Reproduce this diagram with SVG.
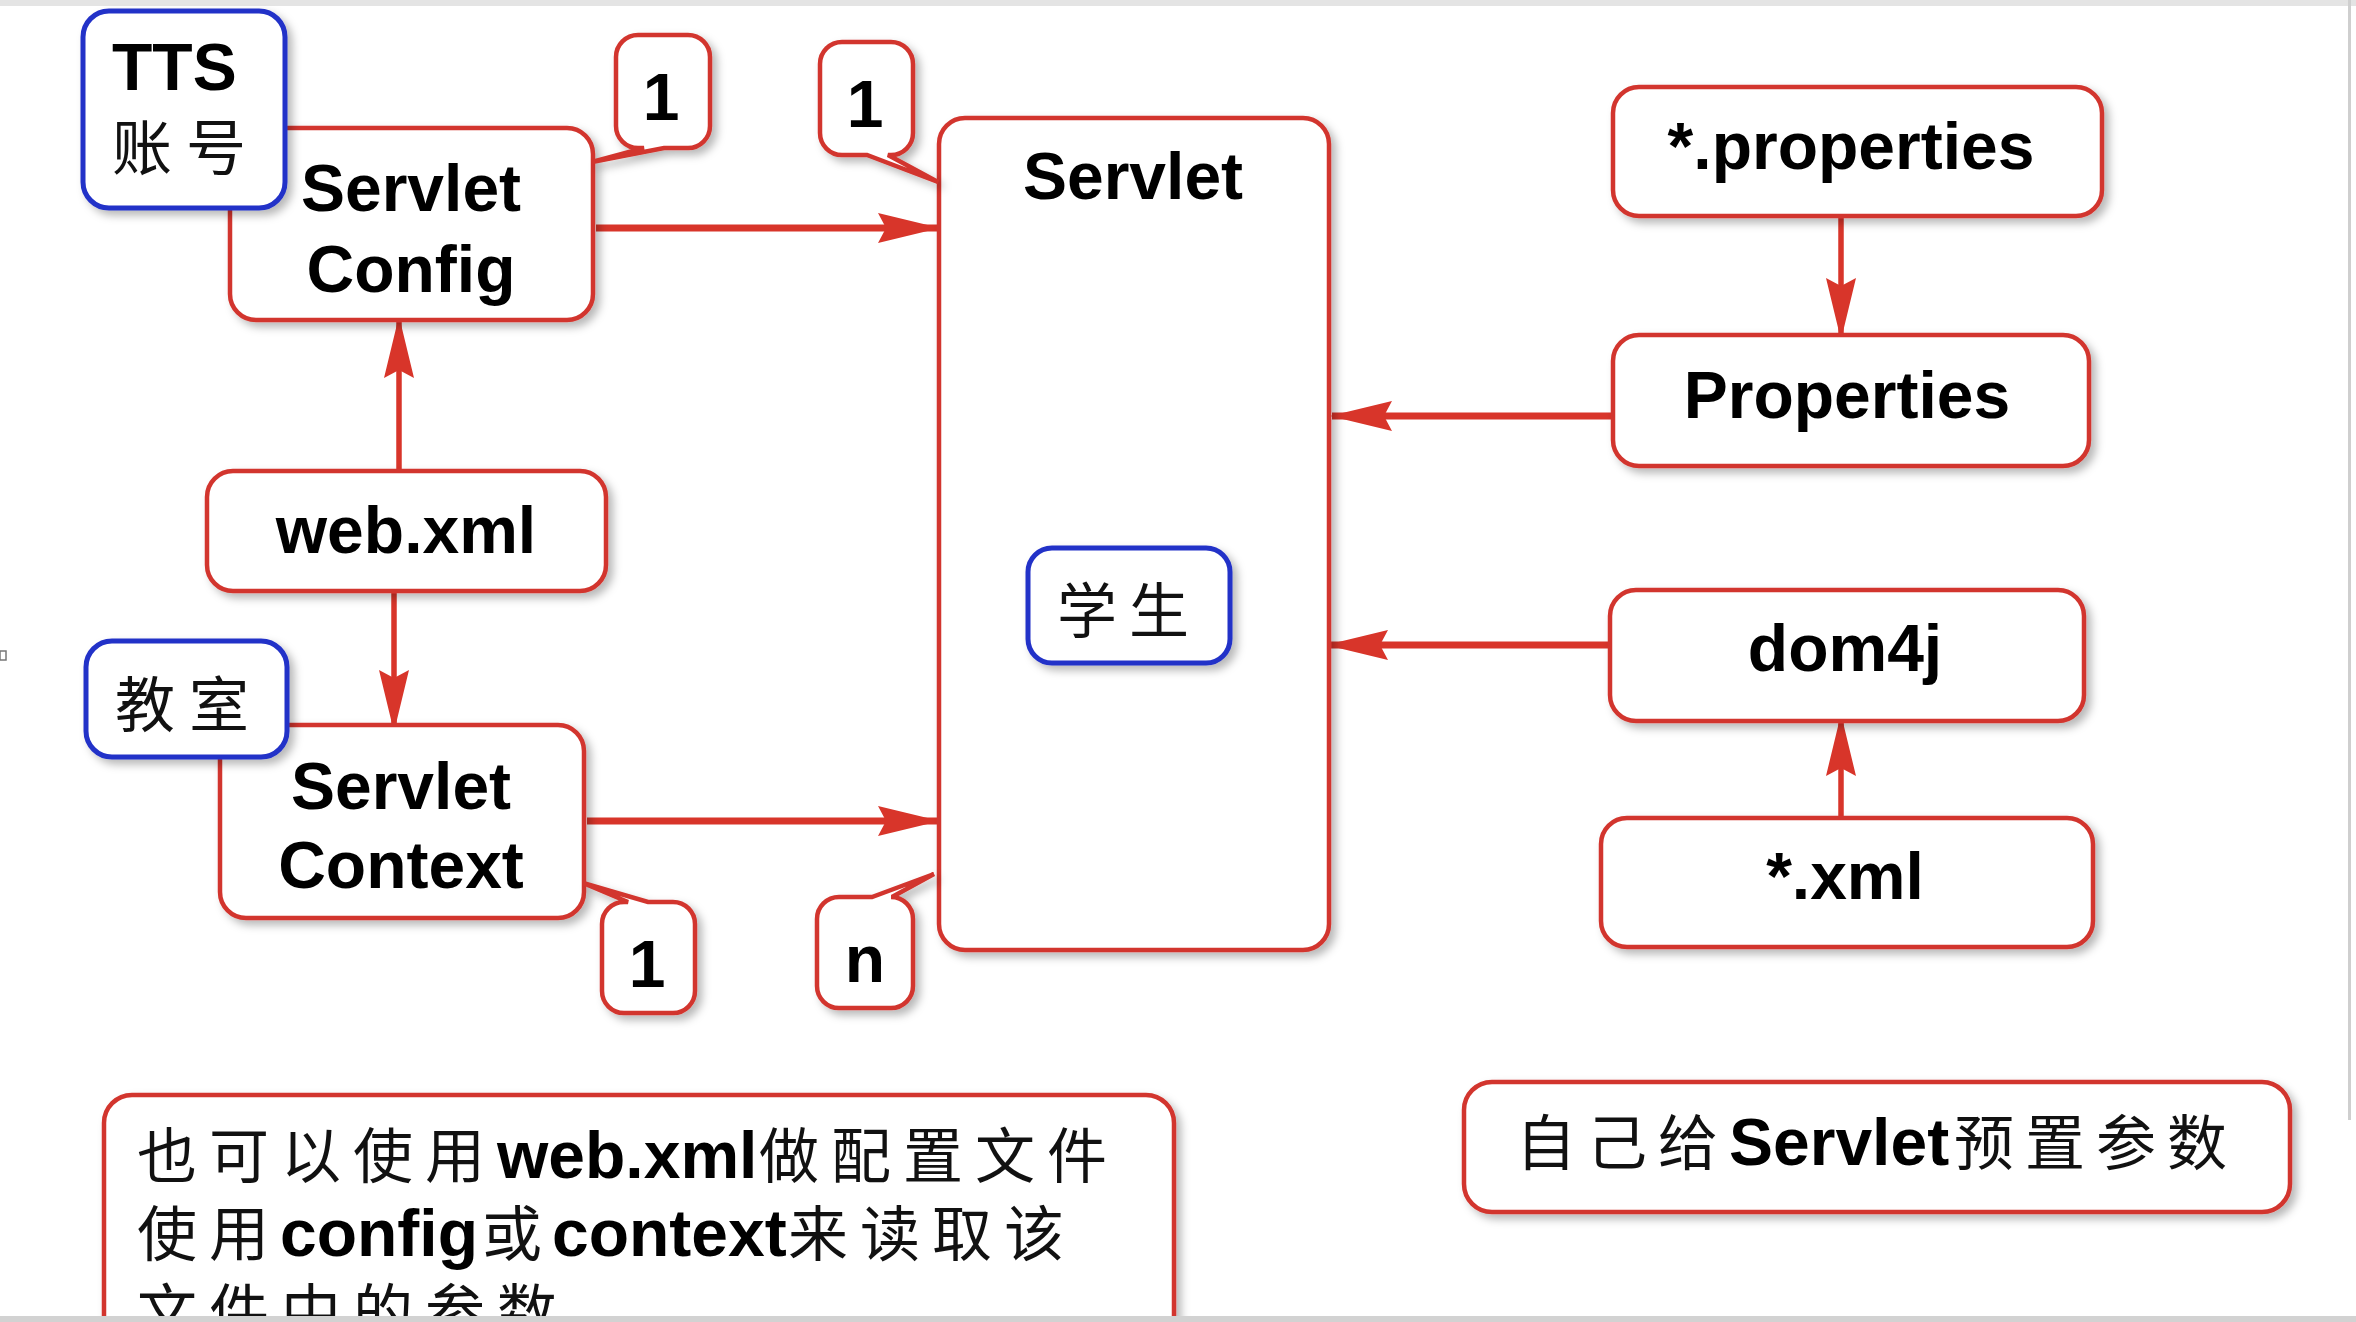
<svg xmlns="http://www.w3.org/2000/svg" width="2356" height="1322" viewBox="0 0 2356 1322">
<style>
.box{fill:#fff;stroke:#d2352e;stroke-width:4.5;filter:url(#sh)}
.blue{fill:#fff;stroke:#2331c8;stroke-width:5;filter:url(#sh)}
.lat{font-family:"Liberation Sans",Arial,sans-serif;font-weight:bold;font-size:66px;fill:#000}
.cjk{font-family:"Noto Sans CJK SC","Noto Sans CJK JP",sans-serif;font-size:60px;fill:#111}
.mid{text-anchor:middle}
.conn{stroke:#d8352a;fill:none}
</style>
<defs>
<filter id="sh" x="-10%" y="-10%" width="130%" height="130%">
<feDropShadow dx="5" dy="5" stdDeviation="4" flood-color="#000" flood-opacity="0.28"/>
</filter>
<marker id="ah" markerUnits="userSpaceOnUse" markerWidth="62" markerHeight="30" refX="60" refY="15" orient="auto">
<path d="M0,0 L62,15 L0,30 L8,15 z" fill="#d8352a"/>
</marker>
</defs>
<rect x="0" y="0" width="2356" height="1322" fill="#fff"/>
<rect x="0" y="0" width="2356" height="6" fill="#e4e4e4"/>
<rect x="2348" y="0" width="3" height="1120" fill="#cfcfcf"/>
<rect x="0" y="651" width="6" height="9" fill="none" stroke="#777" stroke-width="1.5"/>

<g id="connectors">
<line class="conn" x1="596" y1="228" x2="938" y2="228" stroke-width="7" marker-end="url(#ah)"/>
<line class="conn" x1="587" y1="821" x2="938" y2="821" stroke-width="7" marker-end="url(#ah)"/>
<line class="conn" x1="1613" y1="416" x2="1332" y2="416" stroke-width="7" marker-end="url(#ah)"/>
<line class="conn" x1="1612" y1="645" x2="1328" y2="645" stroke-width="7" marker-end="url(#ah)"/>
<line class="conn" x1="399" y1="471" x2="399" y2="318" stroke-width="5.5" marker-end="url(#ah)"/>
<line class="conn" x1="394" y1="591" x2="394" y2="730" stroke-width="5.5" marker-end="url(#ah)"/>
<line class="conn" x1="1841" y1="216" x2="1841" y2="338" stroke-width="5.5" marker-end="url(#ah)"/>
<line class="conn" x1="1841" y1="818" x2="1841" y2="716" stroke-width="5.5" marker-end="url(#ah)"/>
</g>

<g id="servlet-config">
<rect class="box" x="230" y="128" width="363" height="192" rx="26"/>
<text class="lat mid" x="411" y="211">Servlet</text>
<text class="lat mid" x="411" y="292">Config</text>
</g>
<g id="tts">
<rect class="blue" x="83" y="11" width="202" height="197" rx="26"/>
<text class="lat" x="112" y="90">TTS</text>
<text class="cjk" x="112" y="170" letter-spacing="14">账号</text>
</g>

<g id="web-xml">
<rect class="box" x="207" y="471" width="399" height="120" rx="26"/>
<text class="lat mid" x="406" y="553">web.xml</text>
</g>

<g id="servlet-context">
<rect class="box" x="220" y="725" width="364" height="193" rx="26"/>
<text class="lat mid" x="401" y="809">Servlet</text>
<text class="lat mid" x="401" y="888">Context</text>
</g>
<g id="classroom">
<rect class="blue" x="86" y="641" width="201" height="116" rx="26"/>
<text class="cjk" x="115" y="727" letter-spacing="14">教室</text>
</g>

<g id="servlet">
<rect class="box" x="939" y="118" width="390" height="832" rx="26"/>
<text class="lat mid" x="1133" y="199">Servlet</text>
</g>
<g id="student">
<rect class="blue" x="1028" y="548" width="202" height="115" rx="24"/>
<text class="cjk" x="1057" y="633" font-size="62" letter-spacing="12">学生</text>
</g>

<g id="label-1a">
<path class="box" d="M638,35 H688 A22,22 0 0 1 710,57 V126 A22,22 0 0 1 688,148 H664 L592,162 L644,148 H638 A22,22 0 0 1 616,126 V57 A22,22 0 0 1 638,35 Z"/>
<text class="lat mid" x="661" y="120" font-size="68">1</text>
</g>
<g id="label-1b">
<path class="box" d="M842,42 H891 A22,22 0 0 1 913,64 V133 A22,22 0 0 1 891,155 H888 L938,182 L867,155 H842 A22,22 0 0 1 820,133 V64 A22,22 0 0 1 842,42 Z"/>
<text class="lat mid" x="865" y="127" font-size="68">1</text>
</g>
<g id="label-1c">
<path class="box" d="M624,902 H628 L583,883 L648,902 H673 A22,22 0 0 1 695,924 V991 A22,22 0 0 1 673,1013 H624 A22,22 0 0 1 602,991 V924 A22,22 0 0 1 624,902 Z"/>
<text class="lat mid" x="647" y="987" font-size="68">1</text>
</g>
<g id="label-n">
<path class="box" d="M839,897 H872 L934,874 L892,897 H891 A22,22 0 0 1 913,919 V986 A22,22 0 0 1 891,1008 H839 A22,22 0 0 1 817,986 V919 A22,22 0 0 1 839,897 Z"/>
<text class="lat mid" x="865" y="982" font-size="68">n</text>
</g>

<g id="star-properties">
<rect class="box" x="1613" y="87" width="489" height="129" rx="26"/>
<text class="lat mid" x="1851" y="169">*.properties</text>
</g>
<g id="properties">
<rect class="box" x="1613" y="335" width="476" height="131" rx="26"/>
<text class="lat mid" x="1847" y="418">Properties</text>
</g>
<g id="dom4j">
<rect class="box" x="1610" y="590" width="474" height="131" rx="26"/>
<text class="lat mid" x="1845" y="671">dom4j</text>
</g>
<g id="star-xml">
<rect class="box" x="1601" y="818" width="492" height="129" rx="26"/>
<text class="lat mid" x="1845" y="899">*.xml</text>
</g>

<g id="note-left">
<rect class="box" x="104" y="1095" width="1070" height="280" rx="28"/>
<text y="1178"><tspan class="cjk" x="137" letter-spacing="12">也可以使用</tspan><tspan class="lat" x="497">web.xml</tspan><tspan class="cjk" x="759" letter-spacing="12">做配置文件</tspan></text>
<text y="1256"><tspan class="cjk" x="137" letter-spacing="12">使用</tspan><tspan class="lat" x="280">config</tspan><tspan class="cjk" x="482" letter-spacing="12">或</tspan><tspan class="lat" x="552">context</tspan><tspan class="cjk" x="788" letter-spacing="12">来读取该</tspan></text>
<text y="1334"><tspan class="cjk" x="137" letter-spacing="12">文件中的参数</tspan></text>
</g>

<g id="note-right">
<rect class="box" x="1464" y="1082" width="826" height="130" rx="28"/>
<text y="1165"><tspan class="cjk" x="1516" letter-spacing="11">自己给</tspan><tspan class="lat" x="1729" font-size="67">Servlet</tspan><tspan class="cjk" x="1954" letter-spacing="11">预置参数</tspan></text>
</g>

<rect x="0" y="1316" width="2356" height="6" fill="#d2d2d2"/>
</svg>
